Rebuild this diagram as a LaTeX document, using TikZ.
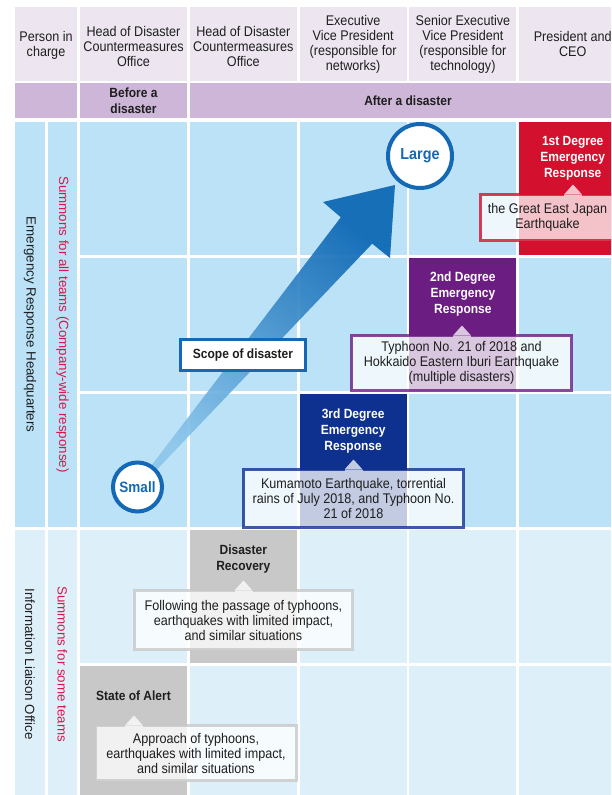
\documentclass[tikz,border=0pt]{standalone}
\usepackage{fontspec}
\setmainfont{Liberation Sans}[FakeStretch=0.9]
\newfontfamily\sidefont{Liberation Sans}
\usetikzlibrary{calc}

\definecolor{hdrc}{HTML}{EDE6F1}
\definecolor{phasec}{HTML}{CDB6D8}
\definecolor{upperc}{HTML}{BCE2F7}
\definecolor{lowerc}{HTML}{DDF0FA}
\definecolor{grayc}{HTML}{C8C8C8}
\definecolor{redc}{HTML}{D4102F}
\definecolor{purc}{HTML}{6B1D82}
\definecolor{bluec}{HTML}{0E318F}
\definecolor{ringc}{HTML}{1468B4}
\definecolor{summc}{HTML}{D6184A}
\definecolor{txtc}{HTML}{1E1E1E}
\definecolor{arrlight}{HTML}{8CC6EB}
\definecolor{arrdark}{HTML}{0A66B3}

% pointer and open border of a callout box
% #1 node, #2 pointer offset from the top centre (px), #3 border colour
\newcommand\calloutedge[3]{%
  \fill[white, fill opacity=0.75] ($(#1.north)+(#2-9,0)$) -- ($(#1.north)+(#2,-10)$) -- ($(#1.north)+(#2+9,0)$) -- cycle;
  \draw[#3, draw opacity=0.8, line width=2.25pt]
    ($(#1.north)+(#2+9,0)$) -- (#1.north east) -- (#1.south east) -- (#1.south west) -- (#1.north west) -- ($(#1.north)+(#2-9,0)$);
}

\tikzset{
  hdrtext/.style={align=center, inner sep=0, text=txtc},
  boldtext/.style={align=center, inner sep=0, font=\bfseries, text=txtc},
  titletext/.style={align=center, inner sep=0, font=\bfseries},
  sidetext/.style={rotate=-90, inner sep=0, text=txtc, font=\sidefont},
  calloutbox/.style={fill=white, fill opacity=0.75, text opacity=1, text=txtc,
    align=center, inner sep=0, outer sep=0},
  ring/.style={circle, draw=ringc, line width=3pt, fill=white, inner sep=0,
    text=ringc, font=\bfseries},
  scopebox/.style={draw=ringc, line width=2.25pt, fill=white, inner sep=0,
    minimum width=93.75pt, minimum height=23.25pt, font=\bfseries, text=txtc},
}

\begin{document}
\begin{tikzpicture}[x=0.75pt, y=-0.75pt, font=\fontsize{10.5}{11.25}\selectfont]
\useasboundingbox (0,0) rectangle (611,795);
\clip (0,0) rectangle (611,795);

% header and phase rows
\fill[hdrc] (15,7) rectangle (77,81);
\foreach \cx in {80,189.8,299.6,409.4,519.2}
  \fill[hdrc] (\cx,7) rectangle ++(107,74);
\fill[phasec] (15,83) rectangle (77,118);
\fill[phasec] (80,83) rectangle (187,118);
\fill[phasec] (189.8,83) rectangle (640,118);

% body grid
\fill[upperc] (15,122) rectangle (45,527);
\fill[upperc] (48,122) rectangle (77,527);
\fill[lowerc] (15,530) rectangle (45,800);
\fill[lowerc] (48,530) rectangle (77,800);
\foreach \cx in {80,189.8,299.6,409.4,519.2}{
  \foreach \ry in {122,258,394}
    \fill[upperc] (\cx,\ry) rectangle ++(107,133);
  \foreach \ry in {530,666}
    \fill[lowerc] (\cx,\ry) rectangle ++(107,133);
}

% response levels
\fill[redc] (519.2,122) rectangle ++(107,133);
\fill[purc] (409.4,258) rectangle ++(107,133);
\fill[bluec] (299.6,394) rectangle ++(107,133);
\fill[grayc] (189.8,530) rectangle ++(107,133);
\fill[grayc] (80,666) rectangle ++(107,140);

% header texts
\node[hdrtext] (h0) at (46,45) {Person in\\charge};
\node[hdrtext] (h1) at (133.5,46) {Head of Disaster\\Countermeasures\\Office};
\node[hdrtext] (h2) at (243.3,46) {Head of Disaster\\Countermeasures\\Office};
\node[hdrtext] (h3) at (353.1,44.6) {Executive\\Vice President\\(responsible for\\networks)};
\node[hdrtext] (h4) at (462.9,44.6) {Senior Executive\\Vice President\\(responsible for\\technology)};
\node[hdrtext] (h5) at (572.7,44) {President and\\CEO};

\node[boldtext] (before) at (133.5,101) {Before a\\disaster};
\node[boldtext] (after) at (408,100.5) {After a disaster};

% side labels
\node[sidetext] (erh) at (30,324.5) {Emergency Response Headquarters};
\node[sidetext, text=summc] (sall) at (62.5,324.5) {Summons for all teams (Company-wide response)};
\node[sidetext] (ilo) at (30,664) {Information Liaison Office};
\node[sidetext, text=summc] (ssome) at (62.5,664) {Summons for some teams};

% level titles
\node[titletext, text=white] (t1) at (572.7,158) {1st Degree\\Emergency\\Response};
\node[titletext, text=white] (t2) at (462.9,294) {2nd Degree\\Emergency\\Response};
\node[titletext, text=white] (t3) at (353.1,431) {3rd Degree\\Emergency\\Response};
\node[titletext, text=txtc] (t4) at (243.3,559.5) {Disaster\\Recovery};
\node[titletext, text=txtc] (t5) at (133.5,696) {State of Alert};

% scope arrow
\shade[bottom color=arrlight, top color=arrdark, shading angle=-40.5, fill opacity=0.92]
  (135.98,485.7) -- (340.8,217.3) -- (323,202) -- (395,185) -- (390,258)
  -- (372.2,243.7) -- (139.02,488.3) -- cycle;

\node[ring, minimum size=36.75pt, font=\bfseries\fontsize{11.25}{12}\selectfont] (small) at (137.5,487) {Small};
\node[ring, minimum size=48pt, font=\bfseries\fontsize{12}{13}\selectfont] (large) at (420,156) {Large};
\node[scopebox] (scope) at (243,355) {Scope of disaster};

% callouts
\node[calloutbox, minimum width=100.5pt, minimum height=34.5pt] (c1) at (547.5,217.5)
  {the Great East Japan\\Earthquake};
\calloutedge{c1}{25.5}{redc}
\node[calloutbox, minimum width=165pt, minimum height=41.25pt] (c2) at (461.5,363)
  {Typhoon No. 21 of 2018 and\\Hokkaido Eastern Iburi Earthquake\\(multiple disasters)};
\calloutedge{c2}{0.5}{purc}
\node[calloutbox, minimum width=165pt, minimum height=43.5pt] (c3) at (353.5,498.5)
  {Kumamoto Earthquake, torrential\\rains of July 2018, and Typhoon No.\\21 of 2018};
\calloutedge{c3}{0}{bluec}
\node[calloutbox, minimum width=163.5pt, minimum height=44.25pt] (c4) at (243.5,620)
  {Following the passage of typhoons,\\earthquakes with limited impact,\\and similar situations};
\calloutedge{c4}{0}{grayc}
\node[calloutbox, minimum width=150.75pt, minimum height=41.25pt] (c5) at (196,753)
  {Approach of typhoons,\\earthquakes with limited impact,\\and similar situations};
\calloutedge{c5}{-62}{grayc}
\end{tikzpicture}
\end{document}
